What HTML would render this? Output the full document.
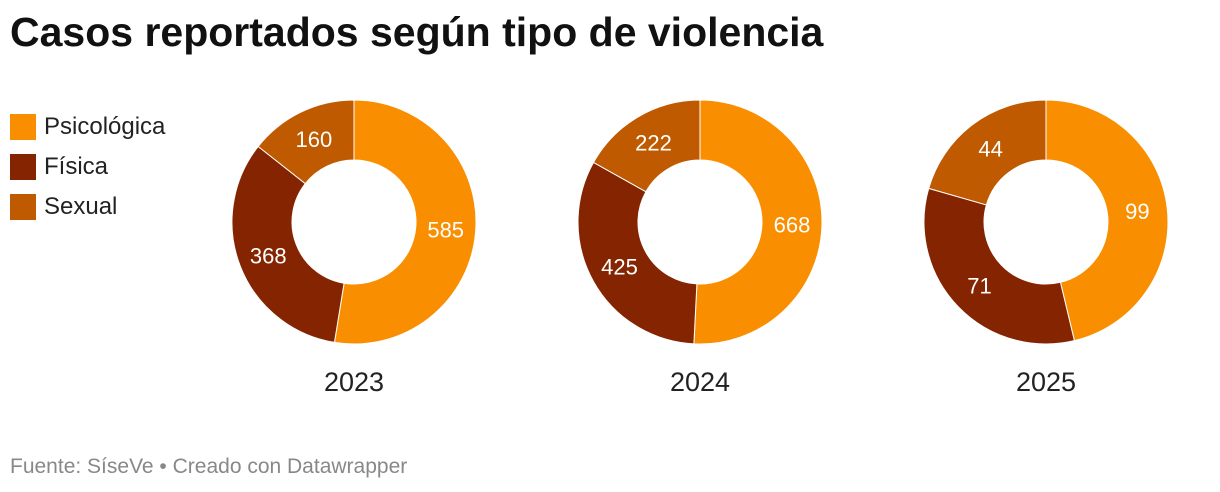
<!DOCTYPE html>
<html><head><meta charset="utf-8"><style>
body{margin:0;width:1220px;height:492px;background:#fff;font-family:"Liberation Sans",sans-serif;overflow:hidden;position:relative}
h1{position:absolute;left:10px;top:9px;margin:0;font-size:41px;font-weight:bold;color:#111;letter-spacing:0px}
.leg{position:absolute;left:10px;display:flex;align-items:center;font-size:24px;color:#222}
.leg span{width:26px;height:26px;margin-right:8px;display:inline-block}
.foot{position:absolute;left:10px;top:455px;font-size:21px;color:#888}
svg{position:absolute;left:0;top:0}
</style></head><body>
<h1>Casos reportados según tipo de violencia</h1>
<div class="leg" style="top:113px"><span style="background:#f98e00"></span>Psicológica</div>
<div class="leg" style="top:153px"><span style="background:#842400"></span>Física</div>
<div class="leg" style="top:193px"><span style="background:#c05a00"></span>Sexual</div>
<svg id="chart" width="1220" height="492"></svg>
<div class="foot">Fuente: SíseVe • Creado con Datawrapper</div>
<script>
const years=["2023","2024","2025"];
const psicologica=[585,668,99];
const fisica=[368,425,71];
const sexual=[160,222,44];
const colors=["#f98e00","#842400","#c05a00"];
const centersX=[354,700,1046], cy=222, R=122, r=62;
const svg=document.getElementById('chart');
const NS="http://www.w3.org/2000/svg";
function pt(a,rad,cx){return [cx+rad*Math.sin(a),cy-rad*Math.cos(a)];}
years.forEach((y,i)=>{
  const vals=[psicologica[i],fisica[i],sexual[i]];
  const tot=vals.reduce((a,b)=>a+b,0);
  let a0=0;const cx=centersX[i];
  vals.forEach((v,j)=>{
    const a1=a0+v/tot*2*Math.PI;
    const large=(a1-a0)>Math.PI?1:0;
    const [x1,y1]=pt(a0,R,cx),[x2,y2]=pt(a1,R,cx),[x3,y3]=pt(a1,r,cx),[x4,y4]=pt(a0,r,cx);
    const p=document.createElementNS(NS,'path');
    p.setAttribute('d',`M${x1},${y1}A${R},${R} 0 ${large} 1 ${x2},${y2}L${x3},${y3}A${r},${r} 0 ${large} 0 ${x4},${y4}Z`);
    p.setAttribute('fill',colors[j]);p.setAttribute('stroke','#fff');p.setAttribute('stroke-width','1');
    
    
    svg.appendChild(p);
    const [lx,ly]=pt((a0+a1)/2,92,cx);
    const t=document.createElementNS(NS,'text');
    t.setAttribute('x',lx);t.setAttribute('y',ly+8);t.setAttribute('text-anchor','middle');
    t.setAttribute('fill','#fff');t.setAttribute('font-size','22');t.textContent=v;
    
    
    svg.appendChild(t);
    a0=a1;
  });
  const yl=document.createElementNS(NS,'text');
  yl.setAttribute('x',cx);yl.setAttribute('y',391);yl.setAttribute('text-anchor','middle');
  yl.setAttribute('font-size','27');yl.setAttribute('fill','#222');yl.textContent=y;
  
  
  svg.appendChild(yl);
});
</script>
</body></html>
